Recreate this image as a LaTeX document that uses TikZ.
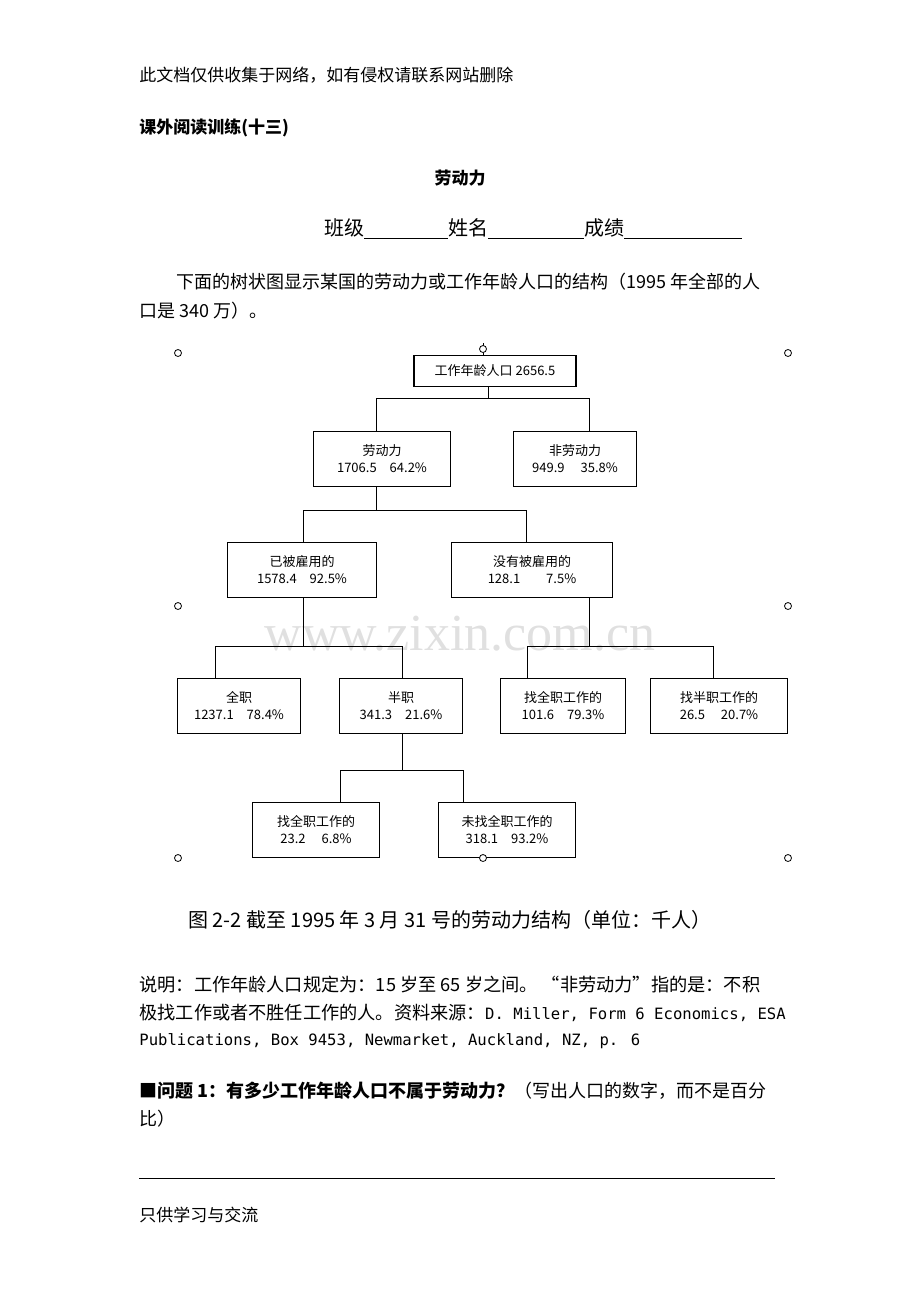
\documentclass[tikz,border=0pt]{standalone}
\usepackage{fontspec}
\setmainfont{Liberation Serif}
\newfontfamily\cjk{Noto Sans CJK SC}
\newfontfamily\mono{DejaVu Sans Mono}
\usetikzlibrary{positioning}
\tikzset{
  box/.style={draw, thick, minimum height=27.5, align=center, inner sep=1pt, font=\cjk\fontsize{6.5}{8.5}\selectfont},
  txt/.style={anchor=west, inner sep=0pt, font=\cjk\fontsize{8.5}{10}\selectfont},
  link/.style={thin},
  handle/.style={draw, circle, inner sep=0pt, minimum size=3.5pt, fill=white}
}
\newcommand\notecjk{\cjk\fontsize{9.1}{10}\selectfont}
\begin{document}
\begin{tikzpicture}[x=0.5pt, y=-0.5pt]
  \useasboundingbox (0,0) rectangle (920,1302);
  % page text
  \node[txt] (head) at (139,75) {此文档仅供收集于网络，如有侵权请联系网站删除};
  \node[txt, font=\cjk\bfseries\fontsize{8.5}{10}\selectfont] (title) at (139,128) {课外阅读训练(十三)};
  \node[txt, font=\cjk\bfseries\fontsize{8.5}{10}\selectfont, anchor=center] (sub) at (460,178) {劳动力};
  \node[txt, font=\cjk\fontsize{10}{12}\selectfont] (info) at (324,229) {班级\rule[-2pt]{42pt}{0.5pt}姓名\rule[-2pt]{48pt}{0.5pt}成绩\rule[-2pt]{59pt}{0.5pt}};
  \node[txt, font=\cjk\fontsize{9}{10}\selectfont] (intro1) at (176,282) {下面的树状图显示某国的劳动力或工作年龄人口的结构（1995 年全部的人};
  \node[txt, font=\cjk\fontsize{9}{10}\selectfont] (intro2) at (139,311) {口是 340 万）。};
  % watermark
  \node[font=\fontsize{26}{26}\selectfont, text=black!12] (mark) at (460,634) {www.zixin.com.cn};
  % boxes
  \node[box, minimum width=81, minimum height=15.5] (root) at (495,371) {工作年龄人口 2656.5};
  \node[box, minimum width=68.5] (lab) at (382,459) {劳动力\\1706.5\quad 64.2\%};
  \node[box, minimum width=61.5] (nonlab) at (575,459) {非劳动力\\949.9\quad\ 35.8\%};
  \node[box, minimum width=74.5] (emp) at (302,570) {已被雇用的\\1578.4\quad 92.5\%};
  \node[box, minimum width=80.5] (unemp) at (532,570) {没有被雇用的\\128.1\qquad 7.5\%};
  \node[box, minimum width=61.5] (full) at (239,706) {全职\\1237.1\quad 78.4\%};
  \node[box, minimum width=61.5] (part) at (401,706) {半职\\341.3\quad 21.6\%};
  \node[box, minimum width=62.5] (seekF) at (563,706) {找全职工作的\\101.6\quad 79.3\%};
  \node[box, minimum width=68.5] (seekP) at (719,706) {找半职工作的\\26.5\quad\ 20.7\%};
  \node[box, minimum width=63.5] (pSeek) at (316,830) {找全职工作的\\23.2\quad\ 6.8\%};
  \node[box, minimum width=68.5] (pNo) at (507,830) {未找全职工作的\\318.1\quad 93.2\%};
  % connectors
  \coordinate (r1) at (488,398);
  \draw[link] (root.south -| r1) -- (r1);
  \draw[link] (lab.north -| 376,0) -- (376,398) -- (589,398) -- (nonlab.north -| 589,0);
  \coordinate (l1) at (376,510);
  \draw[link] (lab.south -| l1) -- (l1);
  \draw[link] (emp.north -| 303,0) -- (303,510) -- (526,510) -- (unemp.north -| 526,0);
  \draw[link] (emp.south -| 303,0) -- (303,646);
  \draw[link] (full.north -| 215,0) -- (215,646) -- (402,646) -- (part.north -| 402,0);
  \draw[link] (unemp.south -| 589,0) -- (589,646);
  \draw[link] (seekF.north -| 527,0) -- (527,646) -- (713,646) -- (seekP.north -| 713,0);
  \draw[link] (part.south -| 402,0) -- (402,770);
  \draw[link] (pSeek.north -| 340,0) -- (340,770) -- (463,770) -- (pNo.north -| 463,0);
  % handles
  \foreach \hx/\hy in {178/353,788/353,178/606,788/606,178/858,788/858,483/858}
    \node[handle] at (\hx,\hy) {};
  \draw (483,343) -- (483,356);
  \node[handle] at (483,349) {};
  % caption and notes
  \node[txt, font=\cjk\fontsize{10}{12}\selectfont] (cap) at (188,920) {图 2-2 截至 1995 年 3 月 31 号的劳动力结构（单位：千人）};
  \node[txt, font=\mono\fontsize{7.8}{10}\selectfont] (n1) at (139,985) {\notecjk 说明：工作年龄人口规定为：15 岁至 65 岁之间。 “非劳动力”指的是：不积};
  \node[txt, font=\mono\fontsize{7.8}{10}\selectfont] (n2) at (139,1013) {{\notecjk 极找工作或者不胜任工作的人。资料来源：}D. Miller, Form 6 Economics, ESA};
  \node[txt, font=\mono\fontsize{7.8}{10}\selectfont] (n3) at (139,1041) {Publications, Box 9453, Newmarket, Auckland, NZ, p. 6};
  \node[txt, font=\cjk\fontsize{9}{10}\selectfont] (q1) at (139,1091) {{\bfseries ■问题 1：有多少工作年龄人口不属于劳动力？}（写出人口的数字，而不是百分};
  \node[txt, font=\cjk\fontsize{9}{10}\selectfont] (q2) at (139,1119) {比）};
  \draw[thin] (139,1178) -- (775,1178);
  \node[txt] (foot) at (139,1215) {只供学习与交流};
\end{tikzpicture}
\end{document}
